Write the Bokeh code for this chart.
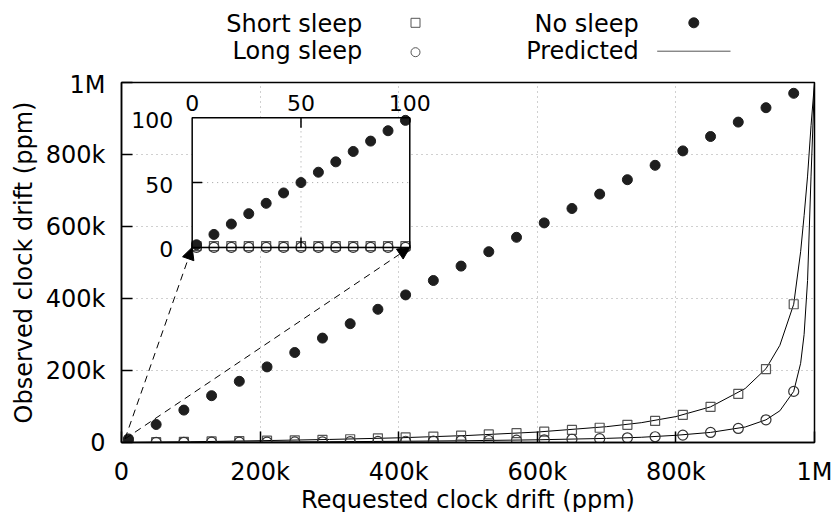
import math
from bokeh.plotting import figure
from bokeh.layouts import column
from bokeh.models import Range1d, FixedTicker, Arrow, NormalHead
from bokeh.core.properties import value
from bokeh.embed import file_html
from bokeh.resources import INLINE

FONT = "DejaVu Sans"

# ---------------- data ----------------
REQUESTED = [10000, 50000, 90000, 130000, 170000, 210000, 250000, 290000, 330000,
             370000, 410000, 450000, 490000, 530000, 570000, 610000, 650000, 690000,
             730000, 770000, 810000, 850000, 890000, 930000, 970000]
NO_SLEEP = [10000, 50000, 90000, 130000, 170000, 210000, 250000, 290000, 330000,
            370000, 410000, 450000, 490000, 530000, 570000, 610000, 650000, 690000,
            730000, 770000, 810000, 850000, 890000, 930000, 970000]
SHORT_SLEEP = [300, 1000, 2000, 3000, 4000, 5000, 6000, 7500, 9000, 11500, 14000,
               16500, 19000, 22500, 26000, 30000, 35000, 41000, 49000, 60000, 77000,
               99000, 135000, 204000, 384000]
LONG_SLEEP = [0, 300, 500, 800, 1000, 1300, 1700, 2000, 2500, 3000, 3500, 4000,
              5000, 5500, 6500, 7500, 9000, 10500, 13000, 16000, 20500, 28000,
              39000, 63000, 142000]

PRED_SHORT_X = [0, 50000, 100000, 200000, 300000, 400000, 500000, 600000, 700000,
                750000, 800000, 850000, 900000, 930000, 950000, 970000, 980000,
                985000, 990000, 995000, 1000000]
PRED_SHORT_Y = [0, 1000, 2000, 5000, 8500, 13000, 19500, 29000, 44000, 55000, 72000,
                99000, 150000, 205000, 270000, 384000, 530000, 630000, 740000,
                880000, 1000000]
PRED_LONG_X = [0, 100000, 200000, 300000, 400000, 500000, 600000, 700000, 750000,
               800000, 850000, 900000, 930000, 950000, 970000, 980000, 985000,
               990000, 995000, 1000000]
PRED_LONG_Y = [0, 500, 1200, 2100, 3300, 5000, 7500, 11500, 14500, 20000, 28000,
               43000, 63000, 88000, 142000, 220000, 300000, 450000, 740000, 1000000]

INSET_X = [2, 10, 18, 26, 34, 42, 50, 58, 66, 74, 82, 90, 98]
INSET_NO_SLEEP = [2, 10, 18, 26, 34, 42, 50, 58, 66, 74, 82, 90, 98]
INSET_SHORT = [1, 1, 1, 1, 1, 1, 1, 1, 1, 1, 1, 1, 1]
INSET_LONG = [0, 0, 0, 0, 0, 0, 0, 0, 0, 0, 0, 0, 0]
INSET_PRED_X = [0, 100]
INSET_PRED_Y = [0, 0]

TICKS = [0, 200000, 400000, 600000, 800000, 1000000]
TICK_LABELS = ["0", "200k", "400k", "600k", "800k", "1M"]
INSET_TICKS = [0, 50, 100]
INSET_TICK_LABELS = ["0", "50", "100"]

LEGEND_LABELS = ["Short sleep", "Long sleep", "No sleep", "Predicted"]

# inset placement (in main data coordinates) and arrow origin
INSET_LEFT, INSET_RIGHT = 102000, 416000
INSET_BOTTOM, INSET_TOP = 542000, 902000
ARROW_FROM = (5000, 10000)

SQ_COLOR = "#555555"
CIRC_COLOR = "#333333"
DOT_COLOR = "#1e1e1e"

BORDER_L, BORDER_R, FRAME_W = 121, 19, 693

# ---------------- legend strip (label then key, gnuplot style) ----------------
LEG_H = 70
leg = figure(frame_width=FRAME_W, frame_height=LEG_H,
             x_range=Range1d(BORDER_L, BORDER_L + FRAME_W),
             y_range=Range1d(LEG_H, 0), output_backend="svg",
             toolbar_location=None, min_border_left=BORDER_L,
             min_border_right=BORDER_R, min_border_top=0, min_border_bottom=0,
             x_axis_location=None, y_axis_location=None, outline_line_color=None,
             background_fill_color="white", border_fill_color="white")
leg.grid.visible = False
leg.text(x=[361.7, 361.7, 638.3, 638.3], y=[23.7, 50.3, 23.7, 50.3],
         text=LEGEND_LABELS, text_align="right", text_baseline="alphabetic",
         text_font=value(FONT), text_font_size="24px", text_color="black")
leg.scatter([415], [22.3], marker="square", size=9, fill_alpha=0,
            line_color=SQ_COLOR, line_width=1)
leg.scatter([415], [51.7], marker="circle", size=9, fill_alpha=0,
            line_color=SQ_COLOR, line_width=1)
leg.scatter([693.3], [22.3], marker="circle", size=10, fill_color=DOT_COLOR,
            line_color=DOT_COLOR)
leg.line([656.7, 730], [50.7, 50.7], line_color=SQ_COLOR, line_width=1)

# ---------------- main figure ----------------
p = figure(frame_width=FRAME_W, frame_height=360,
           x_range=Range1d(0, 1000000), y_range=Range1d(0, 1000000),
           output_backend="svg", toolbar_location=None,
           min_border_left=BORDER_L, min_border_right=BORDER_R, min_border_top=12,
           min_border_bottom=70, background_fill_color="white",
           border_fill_color="white")

for ax in (p.xaxis[0], p.yaxis[0]):
    ax.ticker = FixedTicker(ticks=TICKS)
    ax.major_label_overrides = {t: l for t, l in zip(TICKS, TICK_LABELS)}
    ax.major_tick_in = 11
    ax.major_tick_out = 0
    ax.minor_tick_line_color = None
    ax.major_tick_line_width = 1.5
    ax.axis_line_width = 1.5
    ax.major_label_text_font = FONT
    ax.major_label_text_font_size = "24px"
    ax.major_label_text_color = "black"
    ax.axis_label_text_font = FONT
    ax.axis_label_text_font_size = "24px"
    ax.axis_label_text_font_style = "normal"
    ax.axis_label_text_color = "black"

p.xaxis.axis_label = "Requested clock drift (ppm)"
p.yaxis.axis_label = "Observed clock drift (ppm)"
p.xaxis.major_label_standoff = 15
p.yaxis.major_label_standoff = 16
p.xaxis.axis_label_standoff = -3
p.yaxis.axis_label_standoff = 5

p.grid.grid_line_color = "#a0a0a0"
p.grid.grid_line_dash = "1 4"
p.grid.grid_line_width = 1
p.outline_line_color = "black"
p.outline_line_width = 1.5

# main series
p.line(PRED_SHORT_X, PRED_SHORT_Y, line_color="black", line_width=1)
p.line(PRED_LONG_X, PRED_LONG_Y, line_color="black", line_width=1)
p.scatter(REQUESTED, SHORT_SLEEP, marker="square", size=9, fill_alpha=0,
          line_color=SQ_COLOR, line_width=1.2)
p.scatter(REQUESTED, LONG_SLEEP, marker="circle", size=10, fill_alpha=0,
          line_color=CIRC_COLOR, line_width=1.2)
p.scatter(REQUESTED, NO_SLEEP, marker="circle", size=10, fill_color=DOT_COLOR,
          line_color=DOT_COLOR)

# ---------------- inset ----------------
sub = p.subplot(x_source=Range1d(0, 100), y_source=Range1d(0, 100),
                x_target=Range1d(INSET_LEFT, INSET_RIGHT),
                y_target=Range1d(INSET_BOTTOM, INSET_TOP))
sub.quad(left=[0], right=[100], bottom=[0], top=[100], fill_color="white",
         line_color=None)
sub.segment(x0=[50, 0], y0=[0, 50], x1=[50, 100], y1=[100, 50],
            line_color="#a0a0a0", line_dash="1 4", line_width=1)
sub.line(INSET_PRED_X, INSET_PRED_Y, line_color=SQ_COLOR, line_width=1)
sub.scatter(INSET_X, INSET_SHORT, marker="square", size=9, fill_alpha=0,
            line_color=SQ_COLOR, line_width=1.2)
sub.scatter(INSET_X, INSET_LONG, marker="circle", size=10, fill_alpha=0,
            line_color=CIRC_COLOR, line_width=1.2)
sub.scatter(INSET_X, INSET_NO_SLEEP, marker="circle", size=10,
            fill_color=DOT_COLOR, line_color=DOT_COLOR)
sub.quad(left=[0], right=[100], bottom=[0], top=[100], fill_alpha=0,
         line_color="black", line_width=1.5)
sub.ray(x=[50, 50, 0], y=[0, 100, 50], length=10, length_units="screen",
        angle=[math.pi / 2, -math.pi / 2, 0], line_color="black", line_width=1.5)
sub.text(x=INSET_TICKS, y=[100, 100, 100], text=INSET_TICK_LABELS,
         text_align="center", text_baseline="alphabetic", y_offset=-15,
         text_font=value(FONT), text_font_size="22px", text_color="black")
sub.text(x=[0, 0, 0], y=INSET_TICKS, text=INSET_TICK_LABELS,
         text_align="right", text_baseline="alphabetic", x_offset=-19, y_offset=2,
         text_font=value(FONT), text_font_size="22px", text_color="black")

# arrows from the origin area to the inset corners
for xe in (INSET_LEFT, INSET_RIGHT):
    p.add_layout(Arrow(end=NormalHead(size=12, fill_color="black",
                                      line_color="black", line_width=1),
                       x_start=ARROW_FROM[0], y_start=ARROW_FROM[1],
                       x_end=xe, y_end=INSET_BOTTOM,
                       line_color="black", line_width=1, line_dash="7 5"))

layout = column(leg, p, spacing=0)
open("out.html", "w").write(file_html(layout, INLINE))
